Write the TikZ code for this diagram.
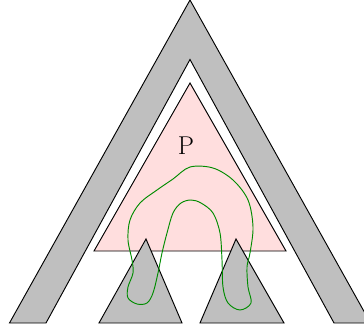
\documentclass[tikz,border=0pt]{standalone}
\usepackage{amsmath,amssymb}
\usepackage{tikz}
\usetikzlibrary{positioning,calc}

\begin{document}
\begin{tikzpicture}[x=0.03cm, y=-0.03cm, every node/.style={font=\fontsize{22}{24}\selectfont}]
            \tikzstyle{wall}=[draw, fill=lightgray, line width=0.8pt, line join=miter]
            \tikzstyle{piece}=[draw, fill=red!13, line width=0.8pt]
            \tikzstyle{loop}=[draw=green!55!black, line width=0.8pt]
            \useasboundingbox (0,0) rectangle (364,329);
            \begin{scope}
            \clip (0,0) rectangle (364,329);
            \draw[wall] (9.5,323) -- (190,0) -- (370.5,323) -- (334,323) -- (190,59.5) -- (46,323) -- cycle;
            \end{scope}
            \draw[piece] (190,83) -- (286,251) -- (94,251) -- cycle;
            \node (P) at (186,146) {P};
            \draw[wall] (146,239) -- (182,323) -- (99,323) -- cycle;
            \draw[wall] (236,239) -- (284,323) -- (200,323) -- cycle;
            \draw[loop] plot[smooth cycle, tension=0.55] coordinates {
              (190,167) (213,168) (233,180) (248,200) (253,227) (250,253)
              (247,267) (248,287) (251,303) (240,310) (228,303) (223,287)
              (222,260) (220,233) (213,213) (201,203) (191,200) (181,203)
              (173,213) (167,233) (162,253) (158,273) (153,293) (147,303)
              (137,304) (128,298) (128,287) (133,273) (132,260) (128,240)
              (130,220) (140,203) (157,190) (173,179)};
        \end{tikzpicture}
\end{document}
